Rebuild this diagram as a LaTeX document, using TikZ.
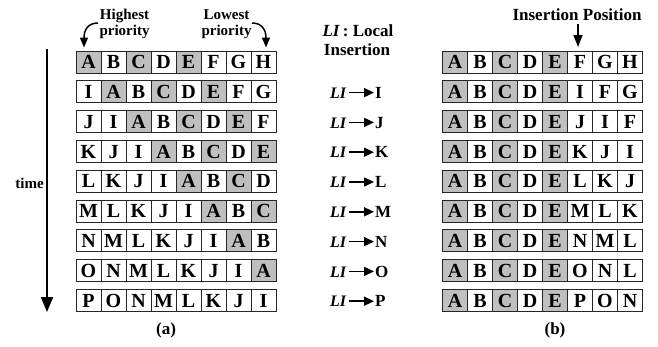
\documentclass[tikz,border=0pt]{standalone}
\usepackage{fontspec}
\setmainfont{Liberation Serif}
\usetikzlibrary{arrows.meta}
\begin{document}
\begin{tikzpicture}[x=1pt,y=-1pt,
  cellbox/.style={draw=black!85,line width=0.9pt,minimum width=25pt,minimum height=22pt,
    inner sep=0pt,text height=13.4pt,text depth=0pt,font=\fontsize{20}{20}\selectfont\bfseries},
  lbl/.style={inner sep=0pt,font=\fontsize{15}{15}\selectfont\bfseries},
  lilbl/.style={inner sep=0pt,font=\fontsize{17}{17}\selectfont\bfseries},
  capt/.style={inner sep=0pt,font=\fontsize{17}{17}\selectfont\bfseries},
  timearrow/.style={line width=2pt,-{Triangle[width=12pt,length=15pt]}},
  parrow/.style={line width=1.5pt,-{Triangle[width=8pt,length=10pt]}},
  liarrow/.style={line width=1.5pt,-{Triangle[width=9pt,length=10pt]}}]
\useasboundingbox (0,0) rectangle (658,346);
\def\lA{A}\def\lC{C}\def\lE{E}
% left grid
\foreach \row [count=\r from 0] in {{A,B,C,D,E,F,G,H},{I,A,B,C,D,E,F,G},{J,I,A,B,C,D,E,F},{K,J,I,A,B,C,D,E},{L,K,J,I,A,B,C,D},{M,L,K,J,I,A,B,C},{N,M,L,K,J,I,A,B},{O,N,M,L,K,J,I,A},{P,O,N,M,L,K,J,I}}{
  \foreach \ch [count=\c from 0] in \row {
    \def\fc{white}
    \ifx\ch\lA\def\fc{gray!50}\fi
    \ifx\ch\lC\def\fc{gray!50}\fi
    \ifx\ch\lE\def\fc{gray!50}\fi
    \node[cellbox,fill=\fc] (L\r-\c) at (88.5+25*\c,62+29.8*\r) {\ch};
  }
}
% right grid
\foreach \row [count=\r from 0] in {{A,B,C,D,E,F,G,H},{A,B,C,D,E,I,F,G},{A,B,C,D,E,J,I,F},{A,B,C,D,E,K,J,I},{A,B,C,D,E,L,K,J},{A,B,C,D,E,M,L,K},{A,B,C,D,E,N,M,L},{A,B,C,D,E,O,N,L},{A,B,C,D,E,P,O,N}}{
  \foreach \ch [count=\c from 0] in \row {
    \def\fc{white}
    \ifx\ch\lA\def\fc{gray!50}\fi
    \ifx\ch\lC\def\fc{gray!50}\fi
    \ifx\ch\lE\def\fc{gray!50}\fi
    \node[cellbox,fill=\fc] (R\r-\c) at (455+25*\c,62+29.8*\r) {\ch};
  }
}
% time arrow
\coordinate (t0) at (47,49);
\coordinate (t1) at (47,312);
\draw[timearrow] (t0) -- (t1);
\node[lbl,anchor=east] (time) at (44,183) {time};
% priority labels
\node[lbl,anchor=base] (hi1) at (124.5,19.3) {Highest};
\node[lbl,anchor=base] (hi2) at (124.5,35) {priority};
\node[lbl,anchor=base] (lo1) at (226.5,19.3) {Lowest};
\node[lbl,anchor=base] (lo2) at (226.5,35) {priority};
\coordinate (ha) at (98,23);
\coordinate (hb) at (84,47.5);
\draw[parrow] (ha) .. controls (88,23) and (84,30) .. (hb);
\coordinate (la) at (252,23);
\coordinate (lb) at (266,47.5);
\draw[parrow] (la) .. controls (262,23) and (266,30) .. (lb);
% LI legend
\node[lilbl,anchor=base] (leg1) at (358,36.7) {\textit{LI}\,: Local};
\node[lilbl,anchor=base] (leg2) at (357,55) {Insertion};
% LI rows
\foreach \ch [count=\r from 1] in {I,J,K,L,M,N,O,P}{
  \node[lilbl,anchor=base west,font=\fontsize{16}{16}\selectfont\bfseries] (li\r) at (330,68.5+29.8*\r) {\textit{LI}};
  \coordinate (la\r) at (349,62.8+29.8*\r);
  \coordinate (lb\r) at (374,62.8+29.8*\r);
  \draw[liarrow] (la\r) -- (lb\r);
  \node[lilbl,anchor=base west] (lx\r) at (375,68.5+29.8*\r) {\ch};
}
% insertion position
\node[capt,anchor=base] (ip) at (577,20) {Insertion Position};
\coordinate (ipa) at (578,24);
\coordinate (ipb) at (578,47);
\draw[line width=1.5pt,-{Triangle[width=9pt,length=12pt]}] (ipa) -- (ipb);
% captions
\node[capt] (ca) at (166,330) {(a)};
\node[capt] (cb) at (555,330) {(b)};
\end{tikzpicture}
\end{document}
